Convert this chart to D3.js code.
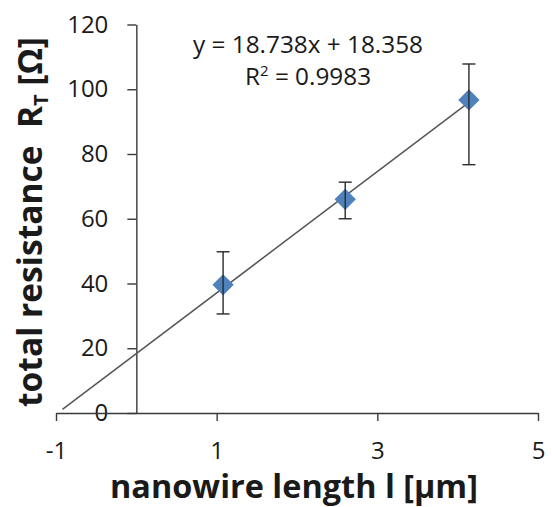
<!DOCTYPE html>
<html>
<head>
<meta charset="utf-8">
<script src="https://cdn.jsdelivr.net/npm/d3@7"></script>
<style>
  body { margin: 0; background: #fff; }
  text { font-family: "Open Sans", "DejaVu Sans", sans-serif; fill: #1a1a1a; }
</style>
</head>
<body>
<svg id="chart" width="552" height="507"></svg>
<script>
// values
const lengths = [1.08, 2.60, 4.14];          // nanowire length [µm]
const resistance = [39.6, 66.0, 96.7];       // R_T [Ω]
const errTop = [49.8, 71.3, 107.8];
const errBottom = [30.6, 60.0, 76.7];
const xTicks = [-1, 1, 3, 5];
const yTicks = [0, 20, 40, 60, 80, 100, 120];
const slope = 18.738, intercept = 18.358;    // trend line from the label
const trendFrom = -0.92, trendTo = 4.14;

const svg = d3.select('#chart');

const x = d3.scaleLinear().domain([-1, 5]).range([56, 538]);
const y = d3.scaleLinear().domain([0, 120]).range([413, 24.5]);

// plain integer labels, ascii hyphen for the minus
const tickFmt = d => String(d);

// y axis crosses at x = 0
const yAxisG = svg.append('g')
  .attr('transform', `translate(${x(0)},0)`)
  .call(d3.axisLeft(y).tickValues(yTicks).tickFormat(tickFmt)
    .tickSize(9).tickSizeOuter(0).tickPadding(19));

const xAxisG = svg.append('g')
  .attr('transform', `translate(0,${y(0)})`)
  .call(d3.axisBottom(x).tickValues(xTicks).tickFormat(tickFmt)
    .tickSize(8).tickSizeOuter(0).tickPadding(21));

[yAxisG, xAxisG].forEach(g => {
  g.selectAll('.domain, .tick line').attr('stroke', '#3a3a3a').attr('stroke-width', 1.4);
  g.selectAll('text').attr('font-size', 24).attr('font-family', '"Open Sans", sans-serif').attr('fill', '#1a1a1a');
});

// trend line
svg.append('line')
  .attr('x1', x(trendFrom)).attr('y1', y(slope * trendFrom + intercept))
  .attr('x2', x(trendTo)).attr('y2', y(slope * trendTo + intercept))
  .attr('stroke', '#555').attr('stroke-width', 1.5);

const pts = lengths.map((l, i) => ({ l, r: resistance[i], hi: errTop[i], lo: errBottom[i] }));

// diamonds
svg.selectAll('.pt').data(pts).enter().append('path')
  .attr('class', 'pt')
  .attr('d', d3.symbol(d3.symbolDiamond2, 290))
  .attr('transform', d => `translate(${x(d.l)},${y(d.r)})`)
  .attr('fill', '#4f81bd');

// error bars
const eb = svg.selectAll('.eb').data(pts).enter().append('g').attr('class', 'eb')
  .attr('stroke', '#2a2a2a').attr('stroke-width', 1.4);
eb.append('line')
  .attr('x1', d => x(d.l)).attr('x2', d => x(d.l))
  .attr('y1', d => y(d.hi)).attr('y2', d => y(d.lo));
eb.append('line')
  .attr('x1', d => x(d.l) - 6.5).attr('x2', d => x(d.l) + 6.5)
  .attr('y1', d => y(d.hi)).attr('y2', d => y(d.hi));
eb.append('line')
  .attr('x1', d => x(d.l) - 6.5).attr('x2', d => x(d.l) + 6.5)
  .attr('y1', d => y(d.lo)).attr('y2', d => y(d.lo));

// fit a label to a target width
const fitWidth = (sel, target) => {
  const w = sel.node().getComputedTextLength();
  const fs = +sel.attr('font-size');
  sel.attr('font-size', fs * target / w);
  return fs * target / w;
};

// trendline label
const eq = svg.append('text')
  .attr('x', 308).attr('y', 53).attr('text-anchor', 'middle').attr('font-size', 21)
  .text('y = 18.738x + 18.358');
const eqSize = fitWidth(eq, 230);
const r2 = svg.append('text')
  .attr('x', 308).attr('y', 85).attr('text-anchor', 'middle').attr('font-size', eqSize);
r2.append('tspan').text('R');
r2.append('tspan').attr('font-size', '0.62em').attr('dy', -9).text('2');
r2.append('tspan').attr('dy', 9).text(' = 0.9983');

const xLabel = svg.append('text')
  .attr('x', 294).attr('y', 498).attr('text-anchor', 'middle')
  .attr('font-size', 30).attr('font-weight', 'bold')
  .text('nanowire length l [µm]');
fitWidth(xLabel, 368);

const yLabel = svg.append('text')
  .attr('transform', 'translate(42,222) rotate(-90)')
  .attr('text-anchor', 'middle').attr('font-size', 30).attr('font-weight', 'bold')
  .style('white-space', 'pre');
yLabel.append('tspan').text('total resistance  R');
yLabel.append('tspan').attr('font-size', '0.6em').attr('dy', 6).text('T');
yLabel.append('tspan').attr('dy', -6).text(' [Ω]');
fitWidth(yLabel, 370);
</script>
</body>
</html>
